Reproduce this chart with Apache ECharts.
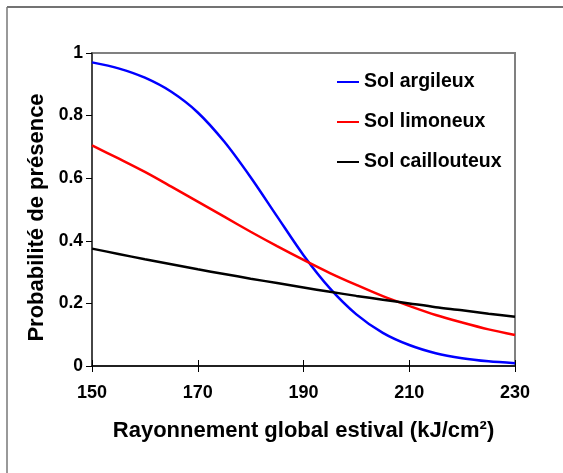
<!DOCTYPE html>
<html>
<head>
<meta charset="utf-8">
<script src="https://cdn.jsdelivr.net/npm/echarts@6/dist/echarts.min.js"></script>
<style>
html,body{margin:0;padding:0;background:#fff;}
#c{width:563px;height:473px;}
</style>
</head>
<body>
<div id="c"></div>
<script>
var seriesNames = ['Sol argileux', 'Sol limoneux', 'Sol caillouteux'];
var xValues = [150, 155, 160, 165, 170, 175, 180, 185, 190, 195, 200, 205, 210, 215, 220, 225, 230];
var argileux = [0.97, 0.951, 0.921, 0.876, 0.81, 0.717, 0.603, 0.478, 0.354, 0.248, 0.165, 0.106, 0.067, 0.041, 0.025, 0.015, 0.009];
var limoneux = [0.705, 0.663, 0.62, 0.573, 0.525, 0.477, 0.429, 0.383, 0.339, 0.297, 0.259, 0.223, 0.192, 0.163, 0.139, 0.117, 0.099];
var caillouteux = [0.375, 0.358, 0.341, 0.325, 0.309, 0.294, 0.279, 0.265, 0.251, 0.237, 0.224, 0.212, 0.200, 0.188, 0.178, 0.167, 0.157];
var colors = ['#0000ff', '#ff0000', '#000000'];
var xTitle = 'Rayonnement global estival (kJ/cm²)';
var yTitle = 'Probabilité de présence';

function pairs(ys) { return xValues.map(function (x, i) { return [x, ys[i]]; }); }

var font = '"Liberation Sans", Arial, Helvetica, sans-serif';
var chart = echarts.init(document.getElementById('c'), null, {renderer: 'canvas'});
var allData = [argileux, limoneux, caillouteux];
chart.setOption({
  animation: false,
  backgroundColor: '#ffffff',
  grid: {left: 92, right: 48, top: 53, bottom: 107, show: true, borderColor: '#808080', borderWidth: 2},
  legend: {
    orient: 'vertical', left: 332, top: 66, itemGap: 18, itemWidth: 22, itemHeight: 2,
    icon: 'rect',
    textStyle: {fontFamily: font, fontWeight: 'bold', fontSize: 19.5, color: '#000', lineHeight: 22},
    data: seriesNames
  },
  xAxis: [{
    type: 'value', min: 150, max: 230, interval: 20,
    name: xTitle, nameLocation: 'middle', nameGap: 54,
    nameTextStyle: {fontFamily: font, fontWeight: 'bold', fontSize: 22, color: '#000'},
    axisLine: {lineStyle: {color: '#000', width: 1.5}},
    axisTick: {length: 6, lineStyle: {color: '#000', width: 1}},
    axisLabel: {fontFamily: font, fontWeight: 'bold', fontSize: 18, color: '#000', margin: 18},
    splitLine: {show: false}
  }, {
    type: 'value', min: 150, max: 230, interval: 20, position: 'bottom',
    axisLine: {show: false},
    axisTick: {inside: true, length: 6, lineStyle: {color: '#000', width: 1}},
    axisLabel: {show: false}, splitLine: {show: false}
  }],
  yAxis: {
    type: 'value', min: 0, max: 1, interval: 0.2,
    name: yTitle, nameLocation: 'middle', nameGap: 43, nameRotate: 90,
    nameTextStyle: {fontFamily: font, fontWeight: 'bold', fontSize: 22, color: '#000', padding: [0, 16, 0, 0]},
    axisLine: {show: true, lineStyle: {color: '#333', width: 1.5}},
    axisTick: {show: true, length: 6, lineStyle: {color: '#000', width: 1}},
    axisLabel: {fontFamily: font, fontWeight: 'bold', fontSize: 17.5, color: '#000', margin: 9},
    splitLine: {show: false}
  },
  series: seriesNames.map(function (n, i) {
    return {
      name: n, type: 'line', data: pairs(allData[i]), smooth: 0.3,
      showSymbol: false, symbol: 'none', color: colors[i],
      lineStyle: {color: colors[i], width: 2.5}
    };
  }),
  graphic: [
    {type: 'line', shape: {x1: 7, y1: 7, x2: 563, y2: 7}, style: {stroke: '#444', lineWidth: 1.5}},
    {type: 'line', shape: {x1: 7, y1: 7, x2: 7, y2: 473}, style: {stroke: '#777', lineWidth: 1.5}}
  ]
});
</script>
</body>
</html>
